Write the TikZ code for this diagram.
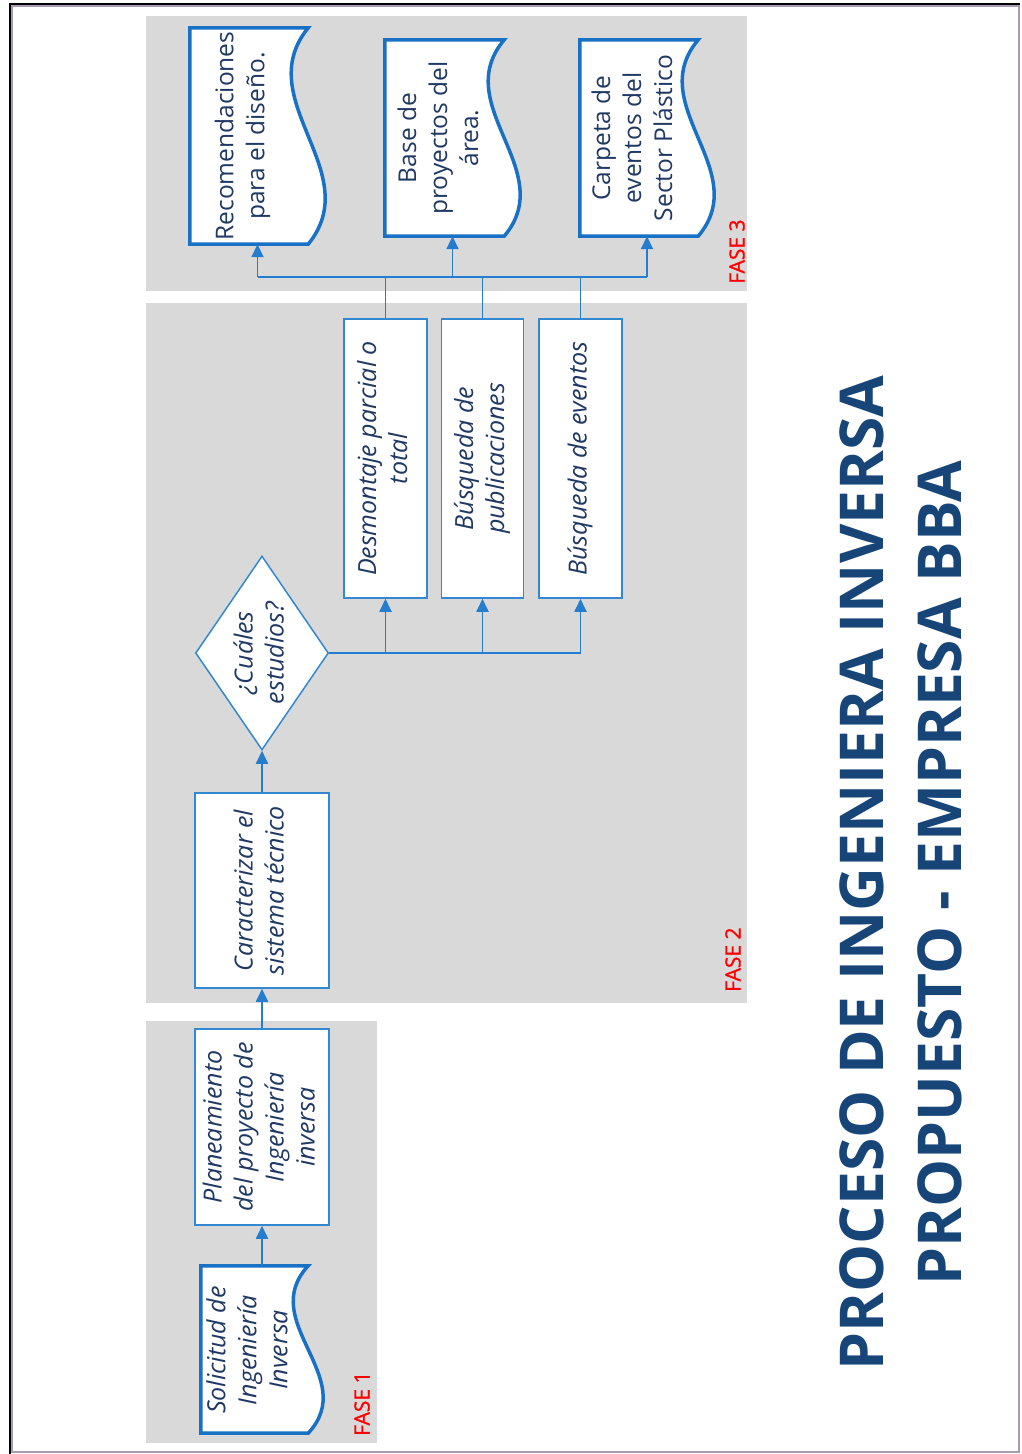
\documentclass[tikz,border=0pt]{standalone}
\usepackage{fontspec}
\setmainfont{Open Sans}
\newfontfamily\phasefont[FakeBold=1.2]{Open Sans}
\usetikzlibrary{calc,shapes.geometric,arrows.meta}

\definecolor{panelgray}{RGB}{217,217,217}
\definecolor{docblue}{RGB}{24,113,196}
\definecolor{boxblue}{RGB}{52,136,210}
\definecolor{linkblue}{RGB}{38,125,205}
\definecolor{textnavy}{RGB}{31,56,100}
\definecolor{titlenavy}{RGB}{24,69,120}
\definecolor{framegray}{RGB}{168,155,178}
\definecolor{phasered}{RGB}{255,0,0}

% text stacked in lines and turned a quarter turn
\newcommand\turnedtext[1]{\rotatebox{90}{\begin{tabular}{@{}c@{}}#1\end{tabular}}}

% document outline (wavy right side) around a named node; #2 = wave amplitude
\newcommand\docoutline[2]{%
  \draw[docline] (#1.north west) -- ($(#1.north east)+(-#2,0)$)
    .. controls ($(#1.north east)!0.3333!(#1.south east) + (-4.46*#2,0)$)
    and ($(#1.north east)!0.6667!(#1.south east) + (2.46*#2,0)$)
    .. ($(#1.south east)+(-#2,0)$) -- (#1.south west) -- cycle;}

\begin{document}
\begin{tikzpicture}[x=1pt,y=-1pt,
  procbox/.style={draw=boxblue, line width=1.5pt, fill=white, inner sep=0pt,
    text=textnavy, font=\itshape\fontsize{25}{31}\selectfont},
  decision/.style={procbox, shape=diamond, aspect=0.686},
  docnode/.style={inner sep=0pt},
  docline/.style={draw=docblue, line width=3.5pt, fill=white, line join=miter},
  doctext/.style={rotate=90, align=center, inner sep=0pt, text=textnavy,
    font=\fontsize{24.5}{31}\selectfont},
  phase/.style={rotate=90, anchor=west, inner sep=0pt, text=phasered,
    font=\phasefont\fontsize{21}{24}\selectfont},
  link/.style={draw=linkblue, line width=1.8pt},
  arrowlink/.style={link, -{Triangle[length=13pt,width=12pt]}},
]
\useasboundingbox (0,0) rectangle (1021,1454);

% page frame
\draw[framegray, line width=2pt] (12,5.5) rectangle (1018.5,1452);
\draw[black, line width=2pt] (10,1454) -- (10,3.5) -- (1020,3.5);

% phase panels
\fill[panelgray] (146,16) rectangle (747,291);
\fill[panelgray] (146,303) rectangle (747,1003);
\fill[panelgray] (146,1021) rectangle (377,1443);

% phase labels
\node[phase] (f3) at (737,284) {FASE 3};
\node[phase] (f2) at (733,992) {FASE 2};
\node[phase] (f1) at (362,1436) {FASE 1};

% FASE 1
\node[docnode, minimum width=122pt, minimum height=167pt] (sol) at (262,1349.5) {};
\docoutline{sol}{15}
\node[doctext, font=\itshape\fontsize{25}{31}\selectfont] (sol-t) at (247,1350)
  {Solicitud de\\Ingeniería\\Inversa};

\node[procbox, minimum width=134pt, minimum height=196pt] (plan) at (262,1127)
  {\turnedtext{Planeamiento\\del proyecto de\\Ingeniería\\inversa}};

% FASE 2
\node[procbox, minimum width=134pt, minimum height=195pt] (car) at (262,890.5)
  {\turnedtext{Caracterizar el\\sistema técnico}};
\node[decision, minimum width=133pt, minimum height=194pt] (dec) at (262,653)
  {\turnedtext{¿Cuáles\\estudios?}};

\node[procbox, minimum width=83pt, minimum height=279pt] (b1) at (385.5,458.5)
  {\turnedtext{Desmontaje parcial o\\total}};
\node[procbox, minimum width=82pt, minimum height=279pt] (b2) at (482.5,458.5)
  {\turnedtext{Búsqueda de\\publicaciones}};
\node[procbox, minimum width=83pt, minimum height=279pt] (b3) at (580.5,458.5)
  {\turnedtext{Búsqueda de eventos}};

% FASE 3
\node[docnode, minimum width=135pt, minimum height=216pt] (rec) at (257.5,136) {};
\docoutline{rec}{17}
\node[doctext] (rec-t) at (242.5,136) {Recomendaciones\\para el diseño.};

\node[docnode, minimum width=135pt, minimum height=196pt] (base) at (452.5,138) {};
\docoutline{base}{16}
\node[doctext] (base-t) at (438,138) {Base de\\proyectos del\\área.};

\node[docnode, minimum width=134pt, minimum height=196pt] (carp) at (647,138) {};
\docoutline{carp}{16}
\node[doctext] (carp-t) at (632,138) {Carpeta de\\eventos del\\Sector Plástico};

% title
\node[rotate=90, align=center, inner sep=0pt, text=titlenavy,
  font=\bfseries\fontsize{60.5}{78}\selectfont] (title) at (901,873)
  {PROCESO DE INGENIERA INVERSA\\PROPUESTO - EMPRESA BBA};

% main chain
\draw[arrowlink] (sol.north) -- (plan.south);
\draw[arrowlink] (plan.north) -- (car.south);
\draw[arrowlink] (car.north) -- (dec.south);

% branches to the studies
\draw[arrowlink] (dec.east) -| (b3.south);
\draw[arrowlink] (dec.east) -| (b2.south);
\draw[arrowlink] (dec.east) -| (b1.south);

% collector towards the outputs
\coordinate (bus) at (483,277);
\draw[link] (b1.north) -- (b1.north |- bus);
\draw[link] (b2.north) -- (b2.north |- bus);
\draw[link] (b3.north) -- (b3.north |- bus);
\draw[link] (rec.south |- bus) -- (carp.south |- bus);
\draw[arrowlink] (rec.south |- bus) -- (rec.south);
\draw[arrowlink] (base.south |- bus) -- (base.south);
\draw[arrowlink] (carp.south |- bus) -- (carp.south);
\end{tikzpicture}
\end{document}
